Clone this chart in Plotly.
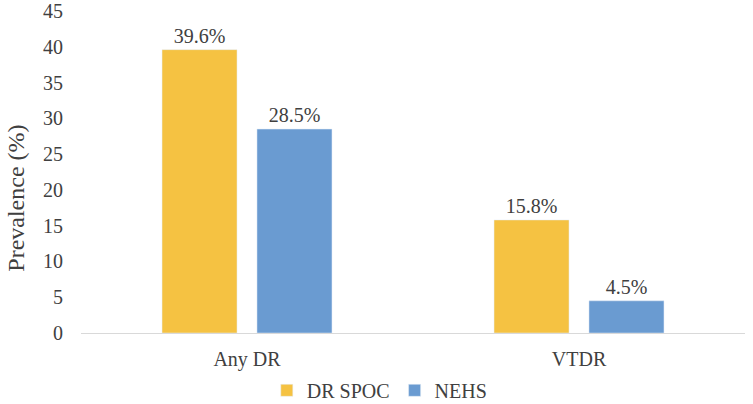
import plotly.graph_objects as go

# datos de la figura
categorias = ["Any DR", "VTDR"]
dr_spoc = [39.6, 15.8]
nehs = [28.5, 4.5]
etiquetas_spoc = ["39.6%", "15.8%"]
etiquetas_nehs = ["28.5%", "4.5%"]
ticks_y = [0, 5, 10, 15, 20, 25, 30, 35, 40, 45]

fuente = "Liberation Serif"
gris = "#404040"

fig = go.Figure()
fig.add_trace(go.Bar(x=categorias, y=dr_spoc, name="DR SPOC",
                     marker_color="#F5C242", text=etiquetas_spoc,
                     textposition="outside", cliponaxis=False))
fig.add_trace(go.Bar(x=categorias, y=nehs, name="NEHS",
                     marker_color="#6A9BD1", text=etiquetas_nehs,
                     textposition="outside", cliponaxis=False))

fig.update_traces(textfont=dict(family=fuente, size=20, color=gris))

fig.update_layout(
    width=753, height=404,
    margin=dict(l=81, r=8, t=11, b=71, autoexpand=False),
    plot_bgcolor="white", paper_bgcolor="white",
    barmode="group", bargap=0.428, bargroupgap=0.21,
    font=dict(family=fuente, size=20, color=gris),
    showlegend=True,
    legend=dict(orientation="h", x=0.45, xanchor="center", y=-0.178, yanchor="middle",
                font=dict(family=fuente, size=20, color=gris),
                traceorder="normal"),
    xaxis=dict(showline=True, linecolor="#D9D9D9", linewidth=1, automargin=False,
               ticks="outside", ticklen=8, tickcolor="rgba(0,0,0,0)",
               tickfont=dict(family=fuente, size=20, color=gris)),
    yaxis=dict(range=[0, 45.001], tickvals=ticks_y, ticklabeloverflow="allow",
               showgrid=False, zeroline=False, automargin=False,
               showline=False, ticks="outside", ticklen=13, tickcolor="rgba(0,0,0,0)",
               tickfont=dict(family=fuente, size=20, color=gris)),
)

# titulo del eje y como anotacion para ubicarlo igual que el original
fig.add_annotation(text="Prevalence (%)", textangle=-90, showarrow=False,
                   xref="paper", yref="paper", x=-0.098, y=0.42,
                   xanchor="center", yanchor="middle",
                   font=dict(family=fuente, size=24, color=gris))

# quitar el margen del body para que la figura quede en la esquina
fig.write_html("out.html", config={"displayModeBar": False},
               post_script="document.body.style.margin='0';")
